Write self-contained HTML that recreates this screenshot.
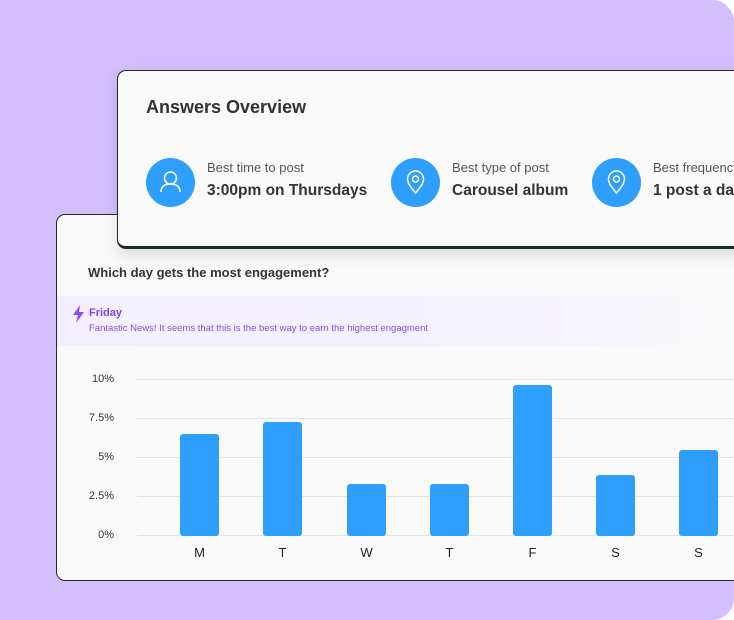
<!DOCTYPE html>
<html><head><meta charset="utf-8"><style>
*{margin:0;padding:0;box-sizing:border-box}
html,body{width:734px;height:620px;overflow:hidden;background:#fff;font-family:"Liberation Sans",sans-serif}
.bg{position:absolute;left:0;top:0;width:734px;height:620px;background:#d2bffc;border-radius:0 22px 22px 0}
.card{position:absolute;background:#fafafa;border:1.5px solid #1f2a2a;border-right:none;border-radius:9px 0 0 9px}
.back{left:56px;top:214px;width:690px;height:367px}
.front{left:117px;top:70px;width:630px;height:179px;border-bottom-width:3px;box-shadow:0 6px 14px rgba(0,0,0,.12)}
.abs{position:absolute;white-space:nowrap}
.circ{position:absolute;width:49px;height:49px;border-radius:50%;background:#2f9ffe}
.lab{font-size:13px;color:#555}
.val{font-size:15.5px;font-weight:bold;color:#333}
.grid{position:absolute;left:137px;width:597px;height:1px;background:#e3e3e3}
.yl{position:absolute;left:60px;width:54px;text-align:right;font-size:11px;color:#333}
.bar{position:absolute;width:39px;background:#2f9ffe;border-radius:3px}
.xl{position:absolute;font-size:13px;color:#222;width:39px;text-align:center;top:545px}
</style></head><body>
<div class="bg"></div>
<div class="card back"></div>
<div class="abs" style="left:88px;top:265px;font-size:13px;font-weight:bold;color:#333">Which day gets the most engagement?</div>
<div class="abs" style="left:57px;top:296px;width:677px;height:50px;background:linear-gradient(90deg,#f3efff 0%,#f5f2ff 70%,#fafafa 100%)"></div>
<svg class="abs" style="left:72px;top:305px" width="14" height="18" viewBox="0 0 14 18"><path d="M8 0L1 10h5l-2 8 8-11H7z" fill="#8a4df0"/></svg>
<div class="abs" style="left:89px;top:307px;font-size:11px;font-weight:bold;color:#8445ef">Friday</div>
<div class="abs" style="left:89px;top:323px;font-size:9.5px;color:#8a4df0">Fantastic News! It seems that this is the best way to earn the highest engagment</div>

<div class="grid" style="top:379px"></div><div class="grid" style="top:418px"></div><div class="grid" style="top:457px"></div><div class="grid" style="top:496px"></div><div class="grid" style="top:535px"></div>
<div class="yl" style="top:373px">10%</div><div class="yl" style="top:412px">7.5%</div><div class="yl" style="top:451px">5%</div><div class="yl" style="top:490px">2.5%</div><div class="yl" style="top:529px">0%</div>

<div class="bar" style="left:180px;top:434px;height:102px"></div>
<div class="bar" style="left:263px;top:422px;height:114px"></div>
<div class="bar" style="left:347px;top:484px;height:52px"></div>
<div class="bar" style="left:430px;top:484px;height:52px"></div>
<div class="bar" style="left:513px;top:385px;height:151px"></div>
<div class="bar" style="left:596px;top:475px;height:61px"></div>
<div class="bar" style="left:679px;top:450px;height:86px"></div>
<div class="xl" style="left:180px">M</div><div class="xl" style="left:263px">T</div><div class="xl" style="left:347px">W</div><div class="xl" style="left:430px">T</div><div class="xl" style="left:513px">F</div><div class="xl" style="left:596px">S</div><div class="xl" style="left:679px">S</div>

<div class="card front"></div>
<div class="abs" style="left:146px;top:97px;font-size:18px;font-weight:bold;color:#333">Answers Overview</div>

<div class="circ" style="left:146px;top:158px"></div>
<svg class="abs" style="left:146px;top:158px" width="49" height="49" viewBox="0 0 49 49" fill="none" stroke="#fff" stroke-width="1.5"><circle cx="24.5" cy="20" r="6"/><path d="M15 34c0-6 4-8 9.5-8s9.5 2 9.5 8"/></svg>
<div class="abs lab" style="left:207px;top:160px">Best time to post</div>
<div class="abs val" style="left:207px;top:182px">3:00pm on Thursdays</div>

<div class="circ" style="left:391px;top:158px"></div>
<svg class="abs" style="left:391px;top:158px" width="49" height="49" viewBox="0 0 49 49" fill="none" stroke="#fff" stroke-width="1.5"><path d="M24.5 35c-5-6-8-10-8-14a8 8 0 0116 0c0 4-3 8-8 14z"/><circle cx="24.5" cy="21" r="3"/></svg>
<div class="abs lab" style="left:452px;top:160px">Best type of post</div>
<div class="abs val" style="left:452px;top:182px">Carousel album</div>

<div class="circ" style="left:592px;top:158px"></div>
<svg class="abs" style="left:592px;top:158px" width="49" height="49" viewBox="0 0 49 49" fill="none" stroke="#fff" stroke-width="1.5"><path d="M24.5 35c-5-6-8-10-8-14a8 8 0 0116 0c0 4-3 8-8 14z"/><circle cx="24.5" cy="21" r="3"/></svg>
<div class="abs lab" style="left:653px;top:160px">Best frequency</div>
<div class="abs val" style="left:653px;top:182px">1 post a day</div>
</body></html>
